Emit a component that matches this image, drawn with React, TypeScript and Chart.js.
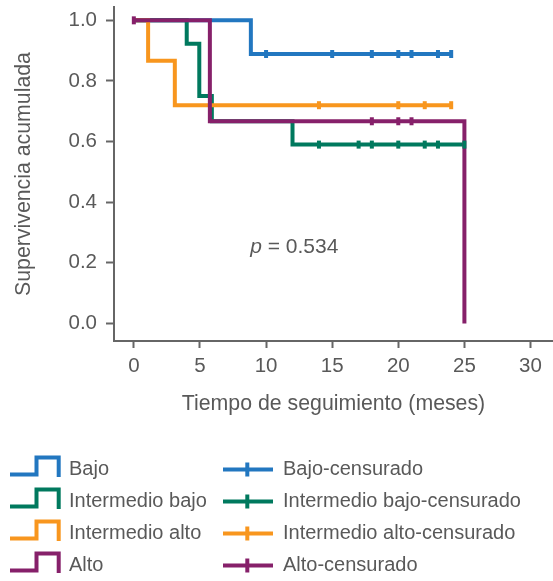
import React, { useEffect, useRef } from 'react';
import { Chart, registerables } from 'chart.js';

Chart.register(...registerables);

const FONT = '"Liberation Sans", Arial, Helvetica, sans-serif';
const TEXT = '#595959';
const AXIS = '#666666';

const BLUE = '#2277C0';
const GREEN = '#00795E';
const ORANGE = '#F8961E';
const PURPLE = '#86206A';

// Kaplan-Meier step curves (time in months, cumulative survival)
const bajoT = [0, 8.85, 24];
const bajoS = [1.0, 0.889, 0.889];
const bajoCensT = [10, 15, 18, 20, 21, 23, 24];
const bajoCensS = [0.889, 0.889, 0.889, 0.889, 0.889, 0.889, 0.889];

const intBajoT = [0, 4.0, 4.95, 5.9, 12, 25];
const intBajoS = [1.0, 0.923, 0.75, 0.667, 0.59, 0.59];
const intBajoCensT = [14, 17, 18, 20, 22, 23, 25];
const intBajoCensS = [0.59, 0.59, 0.59, 0.59, 0.59, 0.59, 0.59];

const intAltoT = [0, 1.08, 3.1, 24];
const intAltoS = [1.0, 0.867, 0.72, 0.72];
const intAltoCensT = [14, 20, 22, 24];
const intAltoCensS = [0.72, 0.72, 0.72, 0.72];

const altoT = [0, 5.75, 25];
const altoS = [1.0, 0.667, 0.0];
const altoCensT = [0, 18, 20, 21];
const altoCensS = [1.0, 0.667, 0.667, 0.667];

const xTicks = [0, 5, 10, 15, 20, 25, 30];
const yTicks = [0, 0.2, 0.4, 0.6, 0.8, 1.0];

const curveLabels = ['Bajo', 'Intermedio bajo', 'Intermedio alto', 'Alto'];
const censLabels = ['Bajo-censurado', 'Intermedio bajo-censurado', 'Intermedio alto-censurado', 'Alto-censurado'];
const colors = [BLUE, GREEN, ORANGE, PURPLE];
const pValueText = '0.534';

const pts = (t: number[], s: number[]) => t.map((x, i) => ({ x, y: s[i] }));

const legendPlugin = {
  id: 'kmLegend',
  afterDraw(chart: any) {
    const ctx = chart.ctx;
    ctx.save();
    ctx.font = `20px ${FONT}`;
    ctx.textBaseline = 'middle';
    ctx.textAlign = 'left';
    for (let i = 0; i < 4; i++) {
      const yc = 469.5 + 32 * i;
      const c = colors[i];
      ctx.strokeStyle = c;
      ctx.lineWidth = 4;
      ctx.lineJoin = 'miter';
      ctx.lineCap = 'butt';
      ctx.beginPath();
      ctx.moveTo(10, yc + 5);
      ctx.lineTo(36.5, yc + 5);
      ctx.lineTo(36.5, yc - 12);
      ctx.lineTo(58.7, yc - 12);
      ctx.lineTo(58.7, yc + 7.5);
      ctx.stroke();
      ctx.fillStyle = TEXT;
      ctx.fillText(curveLabels[i], 69, yc);
      ctx.beginPath();
      ctx.moveTo(223, yc);
      ctx.lineTo(273, yc);
      ctx.stroke();
      ctx.beginPath();
      ctx.moveTo(247.3, yc - 7);
      ctx.lineTo(247.3, yc + 7);
      ctx.stroke();
      ctx.fillText(censLabels[i], 283, yc);
    }
    const xs = chart.scales.x;
    const ys = chart.scales.y;
    const px = xs.getPixelForValue(8.8);
    const py = ys.getPixelForValue(0.25);
    ctx.fillStyle = TEXT;
    ctx.font = `italic 21px ${FONT}`;
    ctx.fillText('p', px, py);
    const w = ctx.measureText('p').width;
    ctx.font = `21px ${FONT}`;
    ctx.fillText(' = ' + pValueText, px + w, py);
    ctx.restore();
  },
};

export default function App() {
  const ref = useRef<HTMLCanvasElement | null>(null);
  useEffect(() => {
    if (!ref.current) return;
    const curves = [
      { t: bajoT, s: bajoS },
      { t: intBajoT, s: intBajoS },
      { t: intAltoT, s: intAltoS },
      { t: altoT, s: altoS },
    ];
    const cens = [
      { t: bajoCensT, s: bajoCensS },
      { t: intBajoCensT, s: intBajoCensS },
      { t: intAltoCensT, s: intAltoCensS },
      { t: altoCensT, s: altoCensS },
    ];
    const lineOrder = [8, 7, 6, 5];
    const censOrder = [4, 3, 2, 1];
    const datasets: any[] = [];
    curves.forEach((c, i) => {
      datasets.push({
        label: curveLabels[i],
        data: pts(c.t, c.s),
        borderColor: colors[i],
        backgroundColor: colors[i],
        borderWidth: 4,
        stepped: 'before',
        pointRadius: 0,
        fill: false,
        order: lineOrder[i],
        borderJoinStyle: 'miter',
      });
    });
    cens.forEach((c, i) => {
      datasets.push({
        label: censLabels[i],
        data: pts(c.t, c.s),
        showLine: false,
        borderColor: colors[i],
        backgroundColor: colors[i],
        pointStyle: 'line',
        pointRotation: 90,
        pointRadius: 4,
        pointBorderWidth: 4,
        order: censOrder[i],
      });
    });

    const tickFont = { family: FONT, size: 20.5 };
    const titleFont = { family: FONT, size: 21.3 };
    const chart = new Chart(ref.current, {
      type: 'line',
      data: { datasets },
      plugins: [legendPlugin],
      options: {
        responsive: false,
        animation: false,
        events: [],
        layout: { autoPadding: false, padding: { top: 7, left: 0, right: 0, bottom: 164 } },
        plugins: { legend: { display: false }, tooltip: { enabled: false } },
        scales: {
          x: {
            type: 'linear',
            min: -1.5,
            max: 31.7,
            afterBuildTicks: (s: any) => {
              s.ticks = xTicks.map((v) => ({ value: v }));
            },
            afterFit: (s: any) => {
              s.height = 76;
              s.paddingLeft = 0;
              s.paddingRight = 0;
            },
            ticks: {
              font: tickFont,
              color: TEXT,
              padding: 6,
              autoSkip: false,
              maxRotation: 0,
              callback: (v: any) => String(v),
            },
            grid: { drawOnChartArea: false, drawTicks: true, tickLength: 7, tickColor: AXIS, tickWidth: 2 },
            border: { display: true, color: AXIS, width: 2 },
            title: {
              display: true,
              text: 'Tiempo de seguimiento (meses)',
              font: titleFont,
              color: TEXT,
              padding: { top: 0, bottom: 0 },
            },
          },
          y: {
            type: 'linear',
            min: -0.058,
            max: 1.044,
            afterBuildTicks: (s: any) => {
              s.ticks = yTicks.map((v) => ({ value: v }));
            },
            afterFit: (s: any) => {
              s.width = 114;
              s.paddingTop = 0;
              s.paddingBottom = 0;
            },
            ticks: {
              font: tickFont,
              color: TEXT,
              padding: 9,
              autoSkip: false,
              callback: (v: any) => Number(v).toFixed(1),
            },
            grid: { drawOnChartArea: false, drawTicks: true, tickLength: 8, tickColor: AXIS, tickWidth: 2 },
            border: { display: true, color: AXIS, width: 2 },
            title: {
              display: true,
              text: 'Supervivencia acumulada',
              font: titleFont,
              color: TEXT,
              padding: { top: 11, bottom: 0 },
            },
          },
        },
      },
    } as any);
    return () => chart.destroy();
  }, []);

  return (
    <div style={{ position: 'absolute', left: 0, top: 0, width: 553, height: 581, background: '#fff' }}>
      <canvas ref={ref} width={553} height={581} style={{ display: 'block', width: 553, height: 581 }} />
    </div>
  );
}
